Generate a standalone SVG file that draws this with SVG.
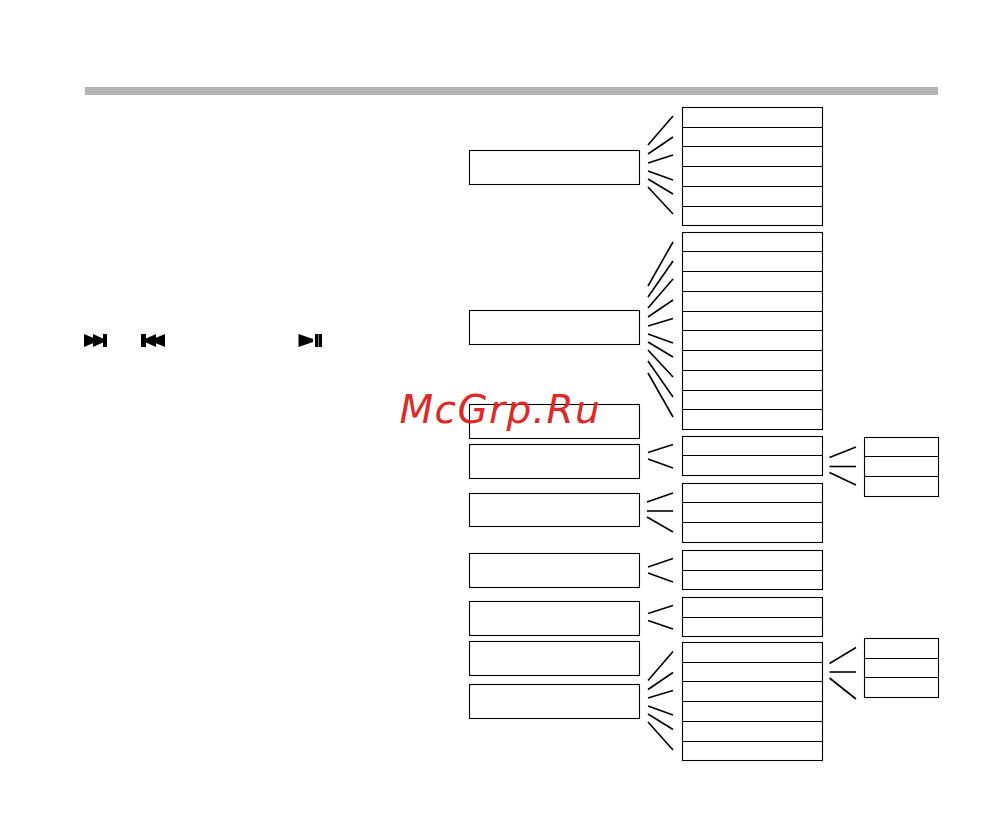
<svg xmlns="http://www.w3.org/2000/svg" width="987" height="817" viewBox="0 0 987 817">
<defs><style>
rect.n{fill:#fff;stroke:#000;stroke-width:1.1}
#connectors line{stroke:#000;stroke-width:1.6}
.d{stroke:#000;stroke-width:1.1;fill:none}
.wm{font-family:"DejaVu Sans",sans-serif;font-style:oblique;font-size:39px;letter-spacing:1.4px;fill:#db2a2a}
</style></defs>
<rect width="987" height="817" fill="#fff"/>
<rect id="topbar" x="85" y="87" width="853" height="8" fill="#b3b3b3"/>
<g id="icon-next"><polygon points="84,334 96,339 96,342 84,347"/><polygon points="93,334 104,339 104,342 93,347"/><rect x="103" y="334" width="4" height="13"/></g>
<g id="icon-prev"><rect x="141" y="334" width="5" height="13"/><polygon points="156,334 145,339 145,342 156,347"/><polygon points="165,334 153,339 153,342 165,347"/></g>
<g id="icon-play"><polygon points="298.500,334 313,339 313,342 298.500,347"/><rect x="315" y="334" width="3.300" height="13"/><rect x="318.700" y="334" width="3.300" height="13"/></g>
<g id="connectors">
<line x1="648" y1="145" x2="673" y2="116"/><line x1="648" y1="154" x2="673" y2="137"/><line x1="648" y1="163" x2="673" y2="155"/><line x1="648" y1="171" x2="673" y2="180"/><line x1="648" y1="179" x2="673" y2="194"/><line x1="648" y1="187" x2="673" y2="214"/>
<line x1="648" y1="286" x2="673" y2="242"/><line x1="648" y1="297" x2="673" y2="261"/><line x1="648" y1="308" x2="673" y2="279"/><line x1="648" y1="317" x2="673" y2="300"/><line x1="648" y1="326" x2="673" y2="318.500"/><line x1="648" y1="334" x2="673" y2="343"/><line x1="648" y1="342" x2="673" y2="357"/><line x1="648" y1="350" x2="673" y2="377"/><line x1="648" y1="361" x2="673" y2="397"/><line x1="648" y1="373" x2="673" y2="417"/>
<line x1="648" y1="452.500" x2="673" y2="444.500"/><line x1="648" y1="459" x2="673" y2="468"/>
<line x1="647" y1="502" x2="673" y2="493"/><line x1="647" y1="511" x2="673" y2="511"/><line x1="647" y1="517" x2="673" y2="532"/>
<line x1="648" y1="567" x2="673" y2="558.500"/><line x1="648" y1="573" x2="673" y2="582"/>
<line x1="648" y1="613.500" x2="673" y2="605.500"/><line x1="648" y1="620.500" x2="673" y2="629"/>
<line x1="648" y1="680.500" x2="673" y2="651.500"/><line x1="648" y1="689.500" x2="673" y2="672.500"/><line x1="648" y1="698" x2="673" y2="690.500"/><line x1="648" y1="706" x2="673" y2="715"/><line x1="648" y1="714" x2="673" y2="729.500"/><line x1="648" y1="722" x2="673" y2="750"/>
<line x1="829.500" y1="457.500" x2="856" y2="447"/><line x1="829.500" y1="466.500" x2="856" y2="466.500"/><line x1="829.500" y1="472.500" x2="856" y2="485"/>
<line x1="829.500" y1="663.500" x2="856" y2="647.500"/><line x1="829.500" y1="672" x2="856" y2="672"/><line x1="829.500" y1="678" x2="856" y2="699"/>
</g>
<g id="left-1"><rect class="n" x="469.500" y="150.500" width="170" height="34"/></g>
<g id="left-2"><rect class="n" x="469.500" y="310.500" width="170" height="34"/></g>
<g id="left-3"><rect class="n" x="469.500" y="404.500" width="170" height="34"/></g>
<g id="left-4"><rect class="n" x="469.500" y="444.500" width="170" height="34"/></g>
<g id="left-5"><rect class="n" x="469.500" y="493.500" width="170" height="33"/></g>
<g id="left-6"><rect class="n" x="469.500" y="553.500" width="170" height="34"/></g>
<g id="left-7"><rect class="n" x="469.500" y="601.500" width="170" height="34"/></g>
<g id="left-8"><rect class="n" x="469.500" y="641.500" width="170" height="34"/></g>
<g id="left-9"><rect class="n" x="469.500" y="684.500" width="170" height="34"/></g>
<g id="list-1"><rect class="n" x="682.500" y="107.500" width="140" height="118"/><path class="d" d="M682.500 127.500H822.500M682.500 146.500H822.500M682.500 166.500H822.500M682.500 186.500H822.500M682.500 206.500H822.500"/></g>
<g id="list-2"><rect class="n" x="682.500" y="232.500" width="140" height="197"/><path class="d" d="M682.500 251.500H822.500M682.500 271.500H822.500M682.500 291.500H822.500M682.500 311.500H822.500M682.500 330.500H822.500M682.500 350.500H822.500M682.500 370.500H822.500M682.500 390.500H822.500M682.500 409.500H822.500"/></g>
<g id="list-3"><rect class="n" x="682.500" y="436.500" width="140" height="39"/><path class="d" d="M682.500 455.500H822.500"/></g>
<g id="list-4"><rect class="n" x="682.500" y="483.500" width="140" height="59"/><path class="d" d="M682.500 502.500H822.500M682.500 522.500H822.500"/></g>
<g id="list-5"><rect class="n" x="682.500" y="550.500" width="140" height="39"/><path class="d" d="M682.500 570.500H822.500"/></g>
<g id="list-6"><rect class="n" x="682.500" y="597.500" width="140" height="39"/><path class="d" d="M682.500 617.500H822.500"/></g>
<g id="list-7"><rect class="n" x="682.500" y="642.500" width="140" height="118"/><path class="d" d="M682.500 662.500H822.500M682.500 681.500H822.500M682.500 701.500H822.500M682.500 721.500H822.500M682.500 741.500H822.500"/></g>
<g id="sub-1"><rect class="n" x="864.500" y="437.500" width="74" height="59"/><path class="d" d="M864.500 456.500H938.500M864.500 476.500H938.500"/></g>
<g id="sub-2"><rect class="n" x="864.500" y="638.500" width="74" height="59"/><path class="d" d="M864.500 658.500H938.500M864.500 677.500H938.500"/></g>
<text class="wm" x="399.500" y="423">McGrp.Ru</text>
</svg>
